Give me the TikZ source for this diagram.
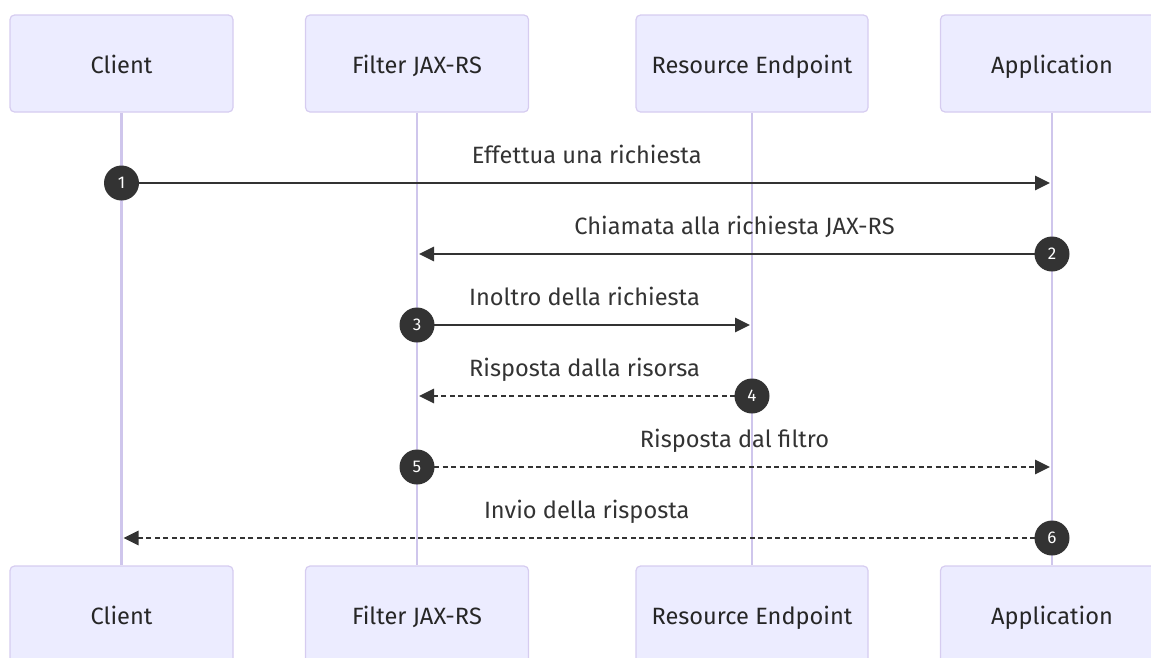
\documentclass[tikz,border=0pt]{standalone}
\usepackage{fontspec}
\setmainfont{Fira Sans}
\usetikzlibrary{arrows.meta,calc}
\definecolor{actorfill}{HTML}{ECECFF}
\definecolor{actorline}{HTML}{D6CCF0}
\definecolor{lifeline}{HTML}{CFC6EC}
\definecolor{msgline}{HTML}{333333}
\definecolor{msgtext}{HTML}{333333}
\tikzset{
  actor/.style={draw=actorline, line width=1.2pt, fill=actorfill, rounded corners=4.5pt,
    minimum height=97pt, inner sep=0pt, text=black!85, text depth=0pt, text height=20pt,
    font=\fontsize{23.6}{27}\selectfont},
  life/.style={draw=lifeline, line width=2.4pt},
  msg/.style={draw=msgline, line width=2.8pt, -{Triangle[length=15pt,width=14pt]}},
  reply/.style={msg, dash pattern=on 5pt off 3.5pt},
  badge/.style={circle, fill=msgline, minimum size=35pt, inner sep=0pt,
    text=white, font=\fontsize{17}{19}\selectfont},
  msglabel/.style={anchor=base, text=msgtext, inner sep=0pt,
    font=\fontsize{23.6}{27}\selectfont},
}
\begin{document}
\begin{tikzpicture}[x=1pt, y=-1pt]
  \useasboundingbox (0,0) rectangle (1151,657);
  \clip (0,0) rectangle (1151,657);

  % actor boxes, top and bottom
  \node[actor, minimum width=223pt] (cT) at (121.5,63.5) {Client};
  \node[actor, minimum width=223pt] (fT) at (417,63.5) {Filter JAX-RS};
  \node[actor, minimum width=232pt] (rT) at (752,63.5) {Resource Endpoint};
  \node[actor, minimum width=223pt] (aT) at (1052,63.5) {Application};
  \node[actor, minimum width=223pt] (cB) at (121.5,614.5) {Client};
  \node[actor, minimum width=223pt] (fB) at (417,614.5) {Filter JAX-RS};
  \node[actor, minimum width=232pt] (rB) at (752,614.5) {Resource Endpoint};
  \node[actor, minimum width=223pt] (aB) at (1052,614.5) {Application};

  % lifelines
  \draw[life] (cT.south) -- (cB.north);
  \draw[life] (fT.south) -- (fB.north);
  \draw[life] (rT.south) -- (rB.north);
  \draw[life] (aT.south) -- (aB.north);

  % message anchors on the lifelines
  \coordinate (c1) at (cT.south |- 0,183);
  \coordinate (a1) at (aT.south |- 0,183);
  \coordinate (a2) at (aT.south |- 0,254);
  \coordinate (f2) at (fT.south |- 0,254);
  \coordinate (f3) at (fT.south |- 0,325);
  \coordinate (r3) at (rT.south |- 0,325);
  \coordinate (r4) at (rT.south |- 0,396);
  \coordinate (f4) at (fT.south |- 0,396);
  \coordinate (f5) at (fT.south |- 0,467);
  \coordinate (a5) at (aT.south |- 0,467);
  \coordinate (a6) at (aT.south |- 0,538);
  \coordinate (c6) at (cT.south |- 0,538);

  % messages
  \draw[msg] (c1) -- ([xshift=-2pt]a1);
  \draw[msg] (a2) -- ([xshift=2pt]f2);
  \draw[msg] (f3) -- ([xshift=-2pt]r3);
  \draw[reply] (r4) -- ([xshift=2pt]f4);
  \draw[reply] (f5) -- ([xshift=-2pt]a5);
  \draw[reply] (a6) -- ([xshift=2pt]c6);

  % message texts
  \node[msglabel] (t1) at ($(c1)!0.5!(a1)+(0,-20)$) {Effettua una richiesta};
  \node[msglabel] (t2) at ($(a2)!0.5!(f2)+(0,-20)$) {Chiamata alla richiesta JAX-RS};
  \node[msglabel] (t3) at ($(f3)!0.5!(r3)+(0,-20)$) {Inoltro della richiesta};
  \node[msglabel] (t4) at ($(r4)!0.5!(f4)+(0,-20)$) {Risposta dalla risorsa};
  \node[msglabel] (t5) at ($(f5)!0.5!(a5)+(0,-20)$) {Risposta dal filtro};
  \node[msglabel] (t6) at ($(a6)!0.5!(c6)+(0,-20)$) {Invio della risposta};

  % sequence numbers
  \node[badge] (n1) at (c1) {1};
  \node[badge] (n2) at (a2) {2};
  \node[badge] (n3) at (f3) {3};
  \node[badge] (n4) at (r4) {4};
  \node[badge] (n5) at (f5) {5};
  \node[badge] (n6) at (a6) {6};
\end{tikzpicture}
\end{document}
